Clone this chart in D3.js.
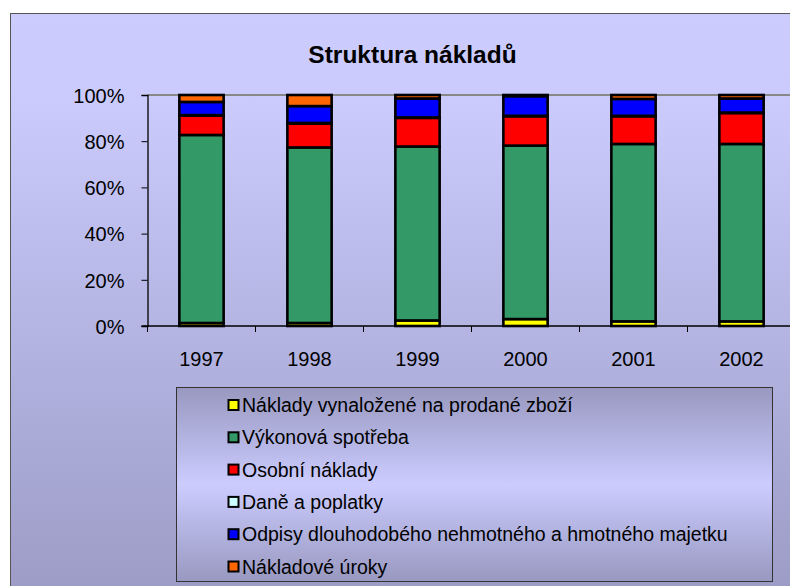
<!DOCTYPE html>
<html><head><meta charset="utf-8">
<script src="https://cdn.jsdelivr.net/npm/d3@7"></script>
<style>body{margin:0;background:#fff}svg{display:block}text{font-family:"Liberation Sans",Arial,sans-serif}</style>
</head><body><svg id="c" width="790" height="586"></svg>
<script>
const years = ["1997","1998","1999","2000","2001","2002"];
const seriesNames = ["Náklady vynaložené na prodané zboží","Výkonová spotřeba","Osobní náklady","Daně a poplatky","Odpisy dlouhodobého nehmotného a hmotného majetku","Nákladové úroky"];
const seriesColors = ["#FFFF00","#339966","#FF0000","#CCFFFF","#0000FF","#FF6600"];
const prodaneZbozi   = [1.3, 1.3, 2.4, 3.0, 2.0, 2.0];
const vykonovaSpotreba = [81.4, 76.0, 75.3, 75.1, 76.8, 76.8];
const osobniNaklady  = [8.4, 10.4, 12.4, 12.7, 12.0, 13.4];
const daneAPoplatky  = [0.2, 0.2, 0.2, 0.2, 0.2, 0.2];
const odpisy         = [5.7, 7.3, 8.2, 8.5, 7.3, 6.1];
const nakladoveUroky = [3.0, 4.8, 1.5, 0.5, 1.7, 1.5];
const yTicks = [0, 0.2, 0.4, 0.6, 0.8, 1.0];
const title = "Struktura nákladů";

const seriesValues = [prodaneZbozi, vykonovaSpotreba, osobniNaklady, daneAPoplatky, odpisy, nakladoveUroky];
const rows = years.map((yr, i) => {
  const r = {year: yr};
  seriesNames.forEach((s, k) => r[s] = seriesValues[k][i]);
  return r;
});
const stacked = d3.stack().keys(seriesNames).offset(d3.stackOffsetExpand)(rows);

const svg = d3.select("#c");
const defs = svg.append("defs");
const g1 = defs.append("linearGradient").attr("id","bg").attr("x1",0).attr("y1",0).attr("x2",0).attr("y2",1);
g1.append("stop").attr("offset","0").attr("stop-color","#CCCCFF");
g1.append("stop").attr("offset","0.15").attr("stop-color","#CACAFC");
g1.append("stop").attr("offset","1").attr("stop-color","#9A9AC4");
const g2 = defs.append("linearGradient").attr("id","lg").attr("x1",0).attr("y1",0).attr("x2",0).attr("y2",1);
g2.append("stop").attr("offset","0").attr("stop-color","#9898C0");
g2.append("stop").attr("offset","0.5").attr("stop-color","#CCCCFF");
g2.append("stop").attr("offset","1").attr("stop-color","#9898C0");

// chart area
svg.append("rect").attr("x",10.5).attr("y",13.5).attr("width",800).attr("height",600)
  .attr("fill","url(#bg)").attr("stroke","#555").attr("stroke-width",1);

svg.append("text").attr("x",412.5).attr("y",63).attr("text-anchor","middle")
  .attr("font-size",24.5).attr("font-weight","bold").text(title);

const plotLeft = 147.5, plotTop = 95, plotBottom = 326;
const x = d3.scaleBand().domain(years).range([plotLeft, plotLeft + 6*108]).paddingInner(0.59).paddingOuter(0.295);
const y = d3.scaleLinear().domain([0,1]).range([plotBottom, plotTop]);

// top plot border (100% line)
svg.append("line").attr("x1",plotLeft).attr("x2",800).attr("y1",plotTop).attr("y2",plotTop)
  .attr("stroke","#888").attr("stroke-width",2);

// bars
svg.append("g").selectAll("g").data(stacked).join("g")
  .attr("fill",(d,i)=>seriesColors[i])
  .selectAll("rect").data(d=>d).join("rect")
  .attr("x",d=>x(d.data.year)).attr("width",x.bandwidth())
  .attr("y",d=>y(d[1])).attr("height",d=>Math.max(0,y(d[0])-y(d[1])))
  .attr("stroke","#000").attr("stroke-width",2.6);

// y axis
const ya = svg.append("g").attr("transform",`translate(${plotLeft},0)`)
  .call(d3.axisLeft(y).tickValues(yTicks).tickFormat(d3.format(".0%")).tickSize(6).tickPadding(17));
ya.select(".domain").attr("stroke","#000").attr("stroke-width",1.3);
ya.selectAll(".tick line").attr("stroke","#000");
ya.selectAll("text").attr("font-size",20).attr("font-family","Liberation Sans, Arial").attr("fill","#000").attr("dy","0.36em");

// x axis
const xa = svg.append("g").attr("transform",`translate(0,${plotBottom})`)
  .call(d3.axisBottom(x).tickSize(0).tickPadding(26));
xa.select(".domain").remove();
xa.append("line").attr("x1",plotLeft-6).attr("x2",800).attr("y1",0).attr("y2",0).attr("stroke","#000").attr("stroke-width",1.3);
xa.selectAll("text").attr("font-size",20).attr("font-family","Liberation Sans, Arial").attr("fill","#000");
const bounds = years.map(yy => x(yy) - (x.step() - x.bandwidth())/2);
xa.selectAll("line.tk").data(bounds).join("line").attr("class","tk")
  .attr("x1",d=>d).attr("x2",d=>d).attr("y1",0).attr("y2",6).attr("stroke","#000");

// legend
const lg = svg.append("g");
lg.append("rect").attr("x",176.5).attr("y",387.5).attr("width",596).attr("height",194)
  .attr("fill","url(#lg)").attr("stroke","#333").attr("stroke-width",1);
const items = lg.selectAll("g.it").data(seriesNames).join("g").attr("class","it")
  .attr("transform",(d,i)=>`translate(228,${405 + i*32.3})`);
items.append("rect").attr("x",0.5).attr("y",-5).attr("width",10).attr("height",10)
  .attr("fill",(d,i)=>seriesColors[i]).attr("stroke","#000").attr("stroke-width",2);
items.append("text").attr("x",14).attr("y",0).attr("dy","0.36em").attr("font-size",19.5).text(d=>d);
</script></body></html>
